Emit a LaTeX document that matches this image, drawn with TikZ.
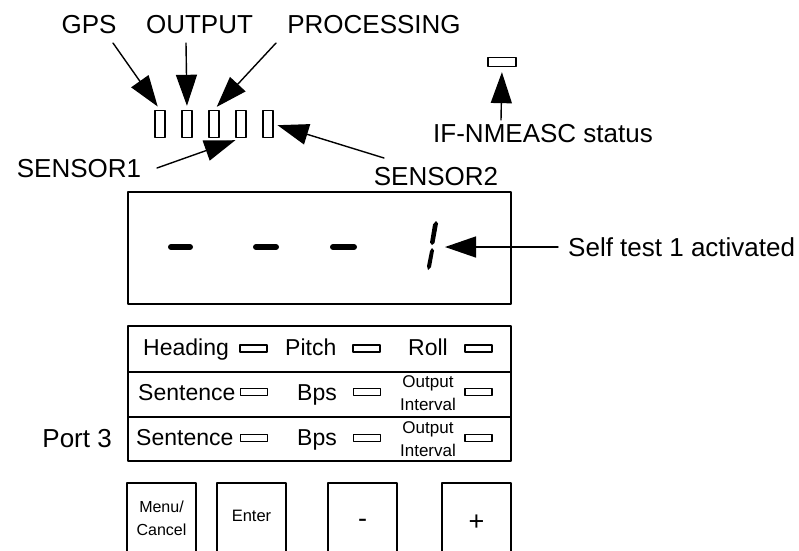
\documentclass[tikz,border=0pt]{standalone}
\usepackage{fontspec}
\setmainfont{Liberation Sans}
\usetikzlibrary{arrows.meta}
\begin{document}
\begin{tikzpicture}[x=1pt,y=-1pt,line cap=round,line join=round,
    >={Triangle[length=31pt,width=21pt]},
    big/.style={font=\fontsize{26}{28}\selectfont,inner sep=0pt},
    small/.style={font=\fontsize{23}{25}\selectfont,inner sep=0pt,anchor=base west},
    tiny/.style={font=\fontsize{17}{23}\selectfont,inner sep=0pt,align=center},
    pointer/.style={->,line width=1.4pt},
    led/.style={draw,line width=1.4pt,minimum width=10pt,minimum height=27pt,inner sep=0pt},
    flat/.style={draw,line width=1.3pt,minimum width=27pt,minimum height=7pt,inner sep=0pt},
    row/.style={draw,line width=1.5pt,minimum width=383pt,inner sep=0pt},
    key/.style={draw,line width=1.3pt,minimum width=69pt,minimum height=70pt,inner sep=0pt,align=center}]
  \useasboundingbox (0,0) rectangle (799,550);
  % status leds on top
  \node[big,anchor=base] (gps) at (89,33) {GPS};
  \node[big,anchor=base] (output) at (199.5,33) {OUTPUT};
  \node[big,anchor=base] (proc) at (374,33) {PROCESSING};
  \foreach \i/\x in {1/160,2/187,3/214,4/241,5/268}
    \node[led] (led\i) at (\x,124) {};
  \node[big,anchor=base] (sensora) at (79,177) {SENSOR1};
  \node[big,anchor=base] (sensorb) at (436,185) {SENSOR2};
  \coordinate (gpstail) at (113,43);
  \coordinate (outtail) at (186,43);
  \coordinate (proctail) at (276,43);
  \coordinate (satail) at (157,168);
  \coordinate (sbtail) at (384,158);
  \draw[pointer,shorten >=4pt] (gpstail) -- (led1.north);
  \draw[pointer,shorten >=4pt] (outtail) -- (led2.north);
  \draw[pointer,shorten >=4pt] (proctail) -- (led3.north);
  \draw[pointer,shorten >=6pt] (satail) -- (led4.south);
  \draw[pointer,shorten >=4pt] (sbtail) -- (led5.east);
  % IF-NMEASC
  \node[flat,minimum width=28pt,minimum height=9pt] (ifled) at (502,62) {};
  \node[big,anchor=base east] (ifstat) at (653,142) {IF-NMEASC status};
  \coordinate (iftail) at (501,120);
  \draw[pointer,shorten >=5pt] (iftail) -- (ifled.south);
  % display
  \node[draw,line width=1.6pt,minimum width=383pt,minimum height=112pt,inner sep=0pt] (display) at (319.5,248) {};
  \foreach \a/\b in {171/190,256/276,333/354}
    \draw[line width=6pt] (\a,247) -- (\b,247);
  \fill (436,221) -- (438,223.5) -- (434.5,243) -- (432,245) -- (430,242.5) -- (433,224.5) -- cycle;
  \fill (432,248) -- (434,250.5) -- (431,267) -- (428,270) -- (427,266) -- (430,251) -- cycle;
  \coordinate (digit) at (438,247);
  \node[big,anchor=west,inner sep=10pt] (selftest) at (558,247) {Self test 1 activated};
  \draw[pointer,shorten >=7pt] (selftest.west) -- (digit);
  % panel
  \node[row,minimum height=46pt] (row1) at (319.5,349) {};
  \node[row,minimum height=45pt] (row2) at (319.5,394.5) {};
  \node[row,minimum height=44pt] (row3) at (319.5,439) {};
  \node[small] (heading) at (143,355) {Heading};
  \node[small] (pitch) at (285,355) {Pitch};
  \node[small] (roll) at (408,355) {Roll};
  \foreach \x in {253.5,366.5,478.5}
    \node[flat] at (\x,348.5) {};
  \foreach \y/\b/\s/\r in {392/400/138/2,438/445/136/3}{
    \node[small] (sent\r) at (\s,\b) {Sentence};
    \node[small] (bps\r) at (297,\b) {Bps};
    \node[tiny] (intv\r) at (428,\y+1.5) {Output\\Interval};
    \foreach \x in {254,367,478.5}
      \node[flat] at (\x,\y) {};
  }
  \node[big,anchor=base east] (port) at (112,447) {Port 3};
  % keys
  \node[key,font=\fontsize{16}{23}\selectfont] (menu) at (161.5,518) {Menu/\\Cancel};
  \node[key,font=\fontsize{16.5}{20}\selectfont,text height=6pt,text depth=0pt] (enter) at (251.5,518) {Enter};
  \node[key,font=\fontsize{27}{30}\selectfont,text height=18.6pt,text depth=0pt] (minus) at (362.5,518) {-};
  \node[key,font=\fontsize{27}{30}\selectfont,text height=25pt,text depth=0pt] (plus) at (476.5,518) {+};
\end{tikzpicture}
\end{document}
